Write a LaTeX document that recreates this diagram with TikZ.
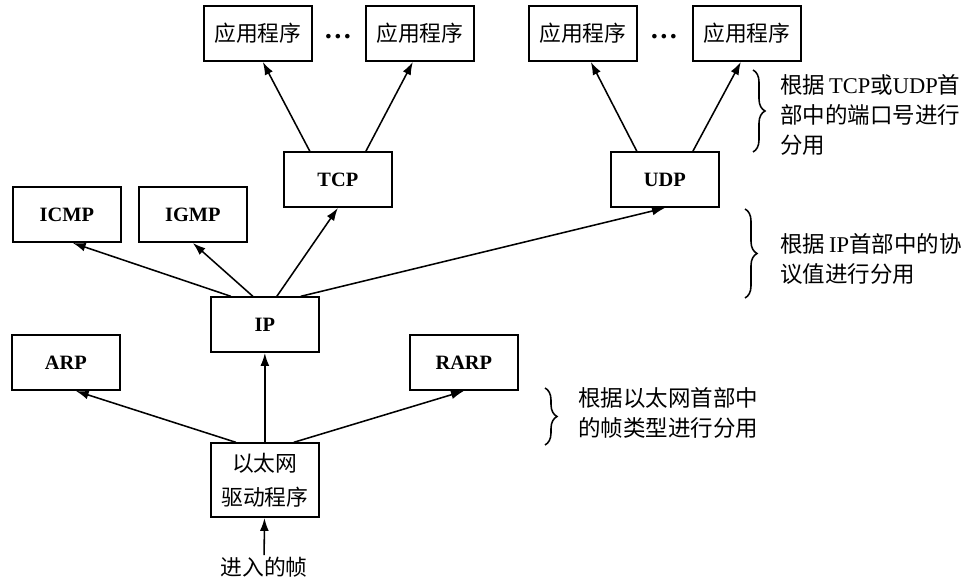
\documentclass[tikz,border=0pt]{standalone}
\usepackage{fontspec}
\setmainfont{Liberation Serif}
\newfontfamily\cjk{Noto Sans CJK SC}
\usepackage{tikz}
\usetikzlibrary{arrows.meta}
\usetikzlibrary{positioning}
\usetikzlibrary{decorations.pathreplacing}

\begin{document}
\begin{tikzpicture}[
	box/.style={rectangle, draw=black, line width=1.2pt, minimum width=2.7cm, minimum height=1.375cm, inner sep=0pt, anchor=south west},
	proto/.style={box, font=\fontsize{14.5}{17}\selectfont\bfseries},
	app/.style={box, font=\cjk\fontsize{15.5}{24}\selectfont, align=center},
	note/.style={anchor=west, align=left, inner sep=0pt, font=\cjk\fontsize{16}{21.3}\selectfont},
	link/.style={black, line width=1.1pt, -{Latex[length=3.2mm,width=2.2mm]}},
	curly/.style={black, line width=1.1pt, decorate, decoration={brace, amplitude=0.3cm}}
]

%\draw[step=1cm, gray, very thin, dotted] (0,0) grid (24,14);
\useasboundingbox (0,0) rectangle (24.05,14.475);

\node at (5.075,12.925) [app] (app1) {应用程序};
\node at (9.125,12.925) [app] (app2) {应用程序};
\node at (13.2,12.925) [app] (app3) {应用程序};
\node at (17.3,12.925) [app] (app4) {应用程序};
\node at (8.45,13.55) [font=\fontsize{20}{22}\selectfont\bfseries] (dots1) {\ldots};
\node at (16.6,13.55) [font=\fontsize{20}{22}\selectfont\bfseries] (dots2) {\ldots};

\node at (7.075,9.275) [proto] (tcp) {TCP};
\node at (15.25,9.275) [proto] (udp) {UDP};

\node at (0.3,8.4) [proto] (icmp) {ICMP};
\node at (3.45,8.4) [proto] (igmp) {IGMP};

\node at (5.25,5.65) [proto] (ip) {IP};

\node at (0.275,4.7) [proto] (arp) {ARP};
\node at (10.225,4.7) [proto] (rarp) {RARP};

\node at (5.25,1.525) [app, minimum height=1.85cm] (drv) 
		{以太网\\驱动程序};
\node at (6.6,0.3) [font=\cjk\fontsize{15.5}{18}\selectfont, inner sep=1pt] (frame) {进入的帧};

\draw[link] (frame) -- (drv);

\draw[link] ([xshift=-0.725cm]drv.north) -- ([xshift=0.25cm]arp.south);
\draw[link] (drv.north) -- (ip.south);
\draw[link] ([xshift=0.725cm]drv.north) -- (rarp.south);

\draw[link] ([xshift=-0.85cm]ip.north) -- ([xshift=0.15cm]icmp.south);
\draw[link] ([xshift=-0.3cm]ip.north) -- (igmp.south);
\draw[link] ([xshift=0.3cm]ip.north) -- (tcp.south);
\draw[link] ([xshift=0.9cm]ip.north) -- (udp.south);

\draw[link] ([xshift=-0.7cm]tcp.north) -- ([xshift=0.125cm]app1.south);
\draw[link] ([xshift=0.7cm]tcp.north) -- ([xshift=-0.175cm]app2.south);
\draw[link] ([xshift=-0.7cm]udp.north) -- ([xshift=0.2cm]app3.south);
\draw[link] ([xshift=0.7cm]udp.north) -- ([xshift=-0.15cm]app4.south);

% demultiplexing notes
\draw[curly] (18.825,12.725) -- (18.825,10.675);
\node at (19.5,11.6) [note] (note1) 
		{根据{\rmfamily\,TCP}或{\rmfamily UDP}首\\部中的端口号进行\\分用};

\draw[curly] (18.625,9.25) -- (18.625,7.025);
\node at (19.5,8.0) [note] (note2) 
		{根据{\rmfamily\,IP}首部中的协\\议值进行分用};

\draw[curly] (13.625,4.775) -- (13.625,3.35);
\node at (14.45,4.15) [note] (note3) 
		{根据以太网首部中\\的帧类型进行分用};

\end{tikzpicture}
\end{document}
